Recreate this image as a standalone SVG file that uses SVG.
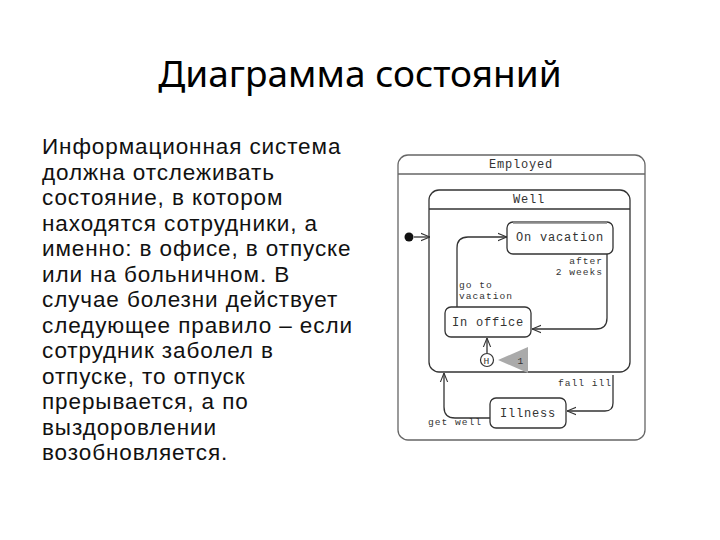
<svg xmlns="http://www.w3.org/2000/svg" width="720" height="540" viewBox="0 0 720 540">
<defs>
<style>
.title{font-family:"Noto Sans","Open Sans",sans-serif;font-size:37px;fill:#000}
.body{font-family:"Liberation Sans","Noto Sans",sans-serif;font-size:22.5px;letter-spacing:0.9px;fill:#111}
.st{fill:#fff;stroke:#333;stroke-width:1.3}
.outer{fill:#fff;stroke:#666;stroke-width:1.3}
.lbl{font-family:"Liberation Mono","DejaVu Sans Mono",monospace;font-size:12px;letter-spacing:0.8px;fill:#333}
.sm{font-family:"Liberation Mono","DejaVu Sans Mono",monospace;font-size:9.6px;letter-spacing:1px;fill:#333}
.cn{fill:none;stroke:#333;stroke-width:1.3}
</style>
<marker id="a" viewBox="0 0 10 10" refX="10" refY="5" markerWidth="7" markerHeight="7" orient="auto-start-reverse">
<path d="M0,1 L10,5 L0,9" fill="none" stroke="#333" stroke-width="1.2"/>
</marker>
</defs>
<rect width="720" height="540" fill="#fff"/>
<text class="title" x="360" y="87" text-anchor="middle">Диаграмма состояний</text>
<g id="description">
<text class="body" x="42" y="154">Информационная система</text>
<text class="body" x="42" y="179.5">должна отслеживать</text>
<text class="body" x="42" y="205">состояние, в котором</text>
<text class="body" x="42" y="230.5">находятся сотрудники, а</text>
<text class="body" x="42" y="256">именно: в офисе, в отпуске</text>
<text class="body" x="42" y="281.5">или на больничном. В</text>
<text class="body" x="42" y="307">случае болезни действует</text>
<text class="body" x="42" y="332.5">следующее правило – если</text>
<text class="body" x="42" y="358">сотрудник заболел в</text>
<text class="body" x="42" y="383.5">отпуске, то отпуск</text>
<text class="body" x="42" y="409">прерывается, а по</text>
<text class="body" x="42" y="434.5">выздоровлении</text>
<text class="body" x="42" y="460">возобновляется.</text>
</g>
<g id="employed">
<rect class="outer" x="398" y="155" width="247" height="285" rx="10"/>
<line x1="398" y1="174" x2="645" y2="174" stroke="#666" stroke-width="1.3"/>
<text class="lbl" x="521" y="168" text-anchor="middle">Employed</text>
</g>
<g id="well">
<rect class="st" x="429" y="190" width="201" height="182" rx="10"/>
<line x1="429" y1="209" x2="630" y2="209" stroke="#333" stroke-width="1.3"/>
<text class="lbl" x="529" y="203" text-anchor="middle">Well</text>
</g>
<g id="initial">
<circle cx="409" cy="237" r="4.5" fill="#111"/>
</g>
<g id="on-vacation">
<rect class="st" x="507" y="222" width="106" height="32" rx="6"/>
<line x1="513" y1="222.5" x2="607" y2="222.5" stroke="#888" stroke-width="2.5"/>
<text class="lbl" x="560" y="241" text-anchor="middle">On vacation</text>
</g>
<g id="in-office">
<rect class="st" x="445" y="307" width="86" height="30" rx="6"/>
<text class="lbl" x="488" y="326" text-anchor="middle">In office</text>
</g>
<g id="history">
<circle cx="487" cy="360" r="6.5" fill="#fff" stroke="#333" stroke-width="1.2"/>
<text class="sm" x="487" y="363.5" text-anchor="middle" letter-spacing="0">H</text>
</g>
<g id="note">
<polygon points="498,360 528,347 528,373" fill="#aaa"/>
<text class="sm" x="521" y="364" text-anchor="middle" letter-spacing="0">1</text>
</g>
<g id="illness">
<rect class="st" x="490" y="398" width="76" height="30" rx="6"/>
<text class="lbl" x="528" y="417" text-anchor="middle">Illness</text>
</g>
<g id="connectors">
<path class="cn" d="M414,237 L430,237" marker-end="url(#a)"/>
<path class="cn" d="M457,307 L457,248 Q457,237 468,237 L507,237" marker-end="url(#a)"/>
<path class="cn" d="M607,254 L607,318 Q607,329 596,329 L532,329" stroke="#555" marker-end="url(#a)"/>
<path class="cn" d="M487,353 L487,338" marker-end="url(#a)"/>
<path class="cn" d="M613,375 L613,403 Q613,411 605,411 L567,411" stroke="#555" marker-end="url(#a)"/>
<path class="cn" d="M490,418 L455,418 Q444,418 444,407 L444,373" marker-end="url(#a)"/>
<text class="sm" x="603" y="264" text-anchor="end">after</text>
<text class="sm" x="603" y="275" text-anchor="end">2 weeks</text>
<text class="sm" x="459" y="288">go to</text>
<text class="sm" x="459" y="299">vacation</text>
<text class="sm" x="612" y="386" text-anchor="end">fall ill</text>
<text class="sm" x="428" y="425">get well</text>
</g>
</svg>
